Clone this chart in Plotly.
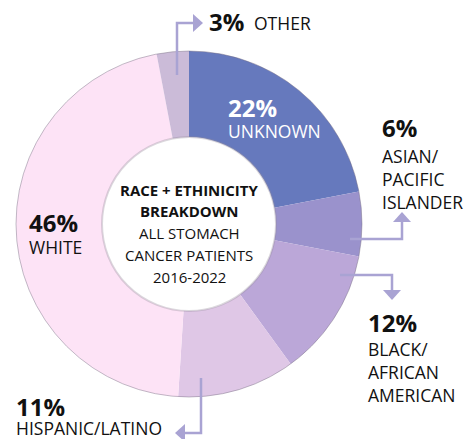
import plotly.graph_objects as go

W, H = 466, 439

categories = ["UNKNOWN", "ASIAN/PACIFIC ISLANDER", "BLACK/AFRICAN AMERICAN",
              "HISPANIC/LATINO", "WHITE", "OTHER"]
values = [22, 6, 12, 11, 46, 3]
colors = ["#6679bd", "#9a92cc", "#bba7d8", "#dfc7e6", "#fde3f6", "#cbbbd8"]
pct_labels = ["22%", "6%", "12%", "11%", "46%", "3%"]
name_labels = ["UNKNOWN", "ASIAN/<br>PACIFIC<br>ISLANDER", "BLACK/<br>AFRICAN<br>AMERICAN",
               "HISPANIC/LATINO", "WHITE", "OTHER"]
center_lines = ["RACE + ETHINICITY", "BREAKDOWN", "ALL STOMACH", "CANCER PATIENTS", "2016-2022"]
center_bold = [True, True, False, False, False]

FONT = "Open Sans"
ARROW = "#a9a3d3"
INK = "#111111"

def px(x):
    return x / W

def py(y):
    return 1 - y / H

cx, cy, R, r = 189, 224, 173, 87

fig = go.Figure(go.Pie(
    labels=categories, values=values, sort=False, direction="clockwise", rotation=0,
    hole=r / R, marker=dict(colors=colors, line=dict(width=0)),
    textinfo="none", hoverinfo="label+percent", showlegend=False,
    domain=dict(x=[px(cx - R), px(cx + R)], y=[py(cy + R), py(cy - R)]),
))

shapes = []
shapes.append(dict(type="circle", xref="paper", yref="paper",
                   x0=px(cx - R), x1=px(cx + R), y0=py(cy + R), y1=py(cy - R),
                   line=dict(color="rgba(120,110,130,0.45)", width=1)))
shapes.append(dict(type="circle", xref="paper", yref="paper",
                   x0=px(cx - r), x1=px(cx + r), y0=py(cy + r), y1=py(cy - r),
                   line=dict(color="rgba(150,140,155,0.35)", width=2)))

def line(points):
    d = "M " + " L ".join(f"{px(x)},{py(y)}" for x, y in points)
    shapes.append(dict(type="path", xref="paper", yref="paper", path=d,
                       line=dict(color=ARROW, width=2.5)))

def tri(points):
    d = "M " + " L ".join(f"{px(x)},{py(y)}" for x, y in points) + " Z"
    shapes.append(dict(type="path", xref="paper", yref="paper", path=d,
                       fillcolor=ARROW, line=dict(color=ARROW, width=0)))

# OTHER arrow
line([(177, 75), (177, 23), (194, 23)])
tri([(193, 14), (203, 23), (193, 32)])
# ASIAN arrow
line([(350, 239), (402, 239), (402, 221)])
tri([(393, 222), (402, 212), (411, 222)])
# BLACK arrow
line([(340, 275), (392, 275), (392, 291)])
tri([(383, 290), (392, 300), (401, 290)])
# HISPANIC arrow
line([(201, 378), (201, 433), (184, 433)])
tri([(185, 424), (175, 433), (185, 442)])

ann = []
def text(x, y, t, size, color=INK, bold=False, anchor="left", yanchor="middle"):
    ann.append(dict(x=px(x), y=py(y), xref="paper", yref="paper", showarrow=False,
                    xanchor=anchor, yanchor=yanchor, align="left",
                    text=f"<b>{t}</b>" if bold else t,
                    font=dict(family=FONT, size=size, color=color)))

PS, LS = 24, 17.5
# OTHER
text(207, 22, pct_labels[5], PS, bold=True)
text(252, 23, name_labels[5], LS)
# UNKNOWN
text(226, 108, pct_labels[0], PS, color="white", bold=True)
text(226, 131, name_labels[0], LS, color="white")
# ASIAN
text(380, 128, pct_labels[1], PS, bold=True)
text(380, 142, name_labels[1], LS, yanchor="top")
# WHITE
text(27, 222, pct_labels[4], PS, bold=True)
text(27, 247, name_labels[4], LS)
# BLACK
text(366, 322, pct_labels[2], PS, bold=True)
text(366, 335, name_labels[2], LS, yanchor="top")
# HISPANIC
text(14, 406, pct_labels[3], PS, bold=True)
text(14, 428, name_labels[3], LS)

# center
for t, b, y in zip(center_lines, center_bold, [190, 211, 233, 255, 277]):
    text(cx, y, t, 15, bold=b, anchor="center")

fig.update_layout(width=W, height=H, margin=dict(l=0, r=0, t=0, b=0),
                  paper_bgcolor="white", plot_bgcolor="white",
                  shapes=shapes, annotations=ann)
fig.write_html("out.html", config={"displayModeBar": False},
               post_script="document.body.style.margin='0';document.body.style.overflow='hidden';")
